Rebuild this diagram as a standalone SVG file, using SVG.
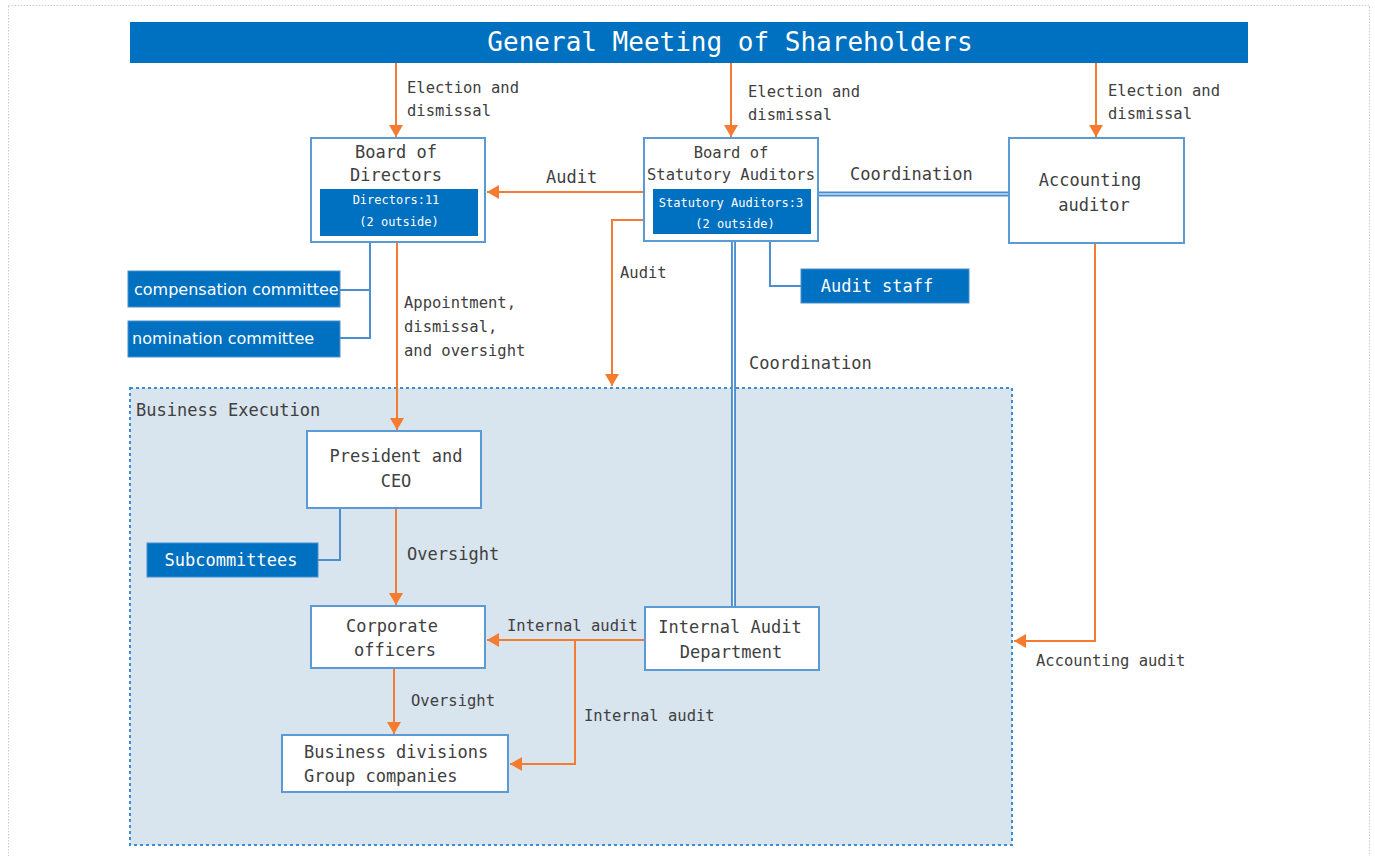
<svg xmlns="http://www.w3.org/2000/svg" width="1375" height="856" viewBox="0 0 1375 856">
<style>
.box{fill:#fff;stroke:#5B9BD5;stroke-width:2}
.blue{fill:#0070C0;stroke:#4A90D0;stroke-width:1}
.t{font-family:"DejaVu Sans Mono","Liberation Mono",monospace;fill:#404040}
.w{font-family:"DejaVu Sans Mono","Liberation Mono",monospace;fill:#fff}
.ws{font-family:"DejaVu Sans","Liberation Sans",sans-serif;fill:#fff}
.n{font-size:17px}
.l{font-size:15.5px}
.s{font-size:12px}
.or{stroke:#F47B30;stroke-width:2;fill:none}
.bl{stroke:#4A8FD0;stroke-width:2;fill:none}
.dbl{stroke:#4A8FD0;stroke-width:5;fill:none}
.dblw{stroke:#fff;stroke-width:1.2;fill:none}
</style>
<defs>
<marker id="ah" markerUnits="userSpaceOnUse" markerWidth="14" markerHeight="14" refX="12" refY="7" orient="auto">
<path d="M0,0 L12,7 L0,14 Z" fill="#F47B30"/>
</marker>
</defs>
<rect x="0" y="0" width="1375" height="856" fill="#fff"/>
<rect x="8.5" y="5.5" width="1361" height="860" fill="none" stroke="#ccc" stroke-width="1" stroke-dasharray="1.5 1.5"/>

<g id="business-execution">
<rect x="130" y="388" width="882" height="457" fill="#D8E4EE" stroke="#3B8ED4" stroke-width="2" stroke-dasharray="3 3"/>
<text class="t n" x="136" y="416">Business Execution</text>
</g>

<g id="connectors">
<line class="or" x1="396" y1="63" x2="396" y2="137" marker-end="url(#ah)"/>
<line class="or" x1="731" y1="63" x2="731" y2="137" marker-end="url(#ah)"/>
<line class="or" x1="1096" y1="63" x2="1096" y2="137" marker-end="url(#ah)"/>
<line class="or" x1="644" y1="192" x2="487" y2="192" marker-end="url(#ah)"/>
<polyline class="or" points="644,220 612,220 612,386" marker-end="url(#ah)"/>
<line class="dbl" x1="818" y1="194" x2="1009" y2="194"/>
<line class="dblw" x1="818" y1="194" x2="1009" y2="194"/>
<line class="dbl" x1="733.5" y1="241" x2="733.5" y2="607"/>
<line class="dblw" x1="733.5" y1="241" x2="733.5" y2="607"/>
<polyline class="bl" points="770,241 770,286 801,286"/>
<polyline class="bl" points="370,242 370,338 340,338"/>
<line class="bl" x1="370" y1="290" x2="340" y2="290"/>
<line class="or" x1="397" y1="242" x2="397" y2="430" marker-end="url(#ah)"/>
<polyline class="bl" points="340,508 340,560 318,560"/>
<line class="or" x1="396" y1="508" x2="396" y2="605" marker-end="url(#ah)"/>
<line class="or" x1="394" y1="668" x2="394" y2="734" marker-end="url(#ah)"/>
<line class="or" x1="645" y1="640" x2="487" y2="640" marker-end="url(#ah)"/>
<polyline class="or" points="575,640 575,764 510,764" marker-end="url(#ah)"/>
<polyline class="or" points="1095,243 1095,641 1014,641" marker-end="url(#ah)"/>
</g>

<g id="connector-labels">
<text class="t l" x="407" y="93">Election and</text>
<text class="t l" x="407" y="116">dismissal</text>
<text class="t l" x="748" y="97">Election and</text>
<text class="t l" x="748" y="120">dismissal</text>
<text class="t l" x="1108" y="96">Election and</text>
<text class="t l" x="1108" y="119">dismissal</text>
<text class="t n" x="546" y="183">Audit</text>
<text class="t n" x="850" y="180">Coordination</text>
<text class="t l" x="620" y="278">Audit</text>
<text class="t n" x="749" y="369">Coordination</text>
<text class="t l" x="404" y="308">Appointment,</text>
<text class="t l" x="404" y="332">dismissal,</text>
<text class="t l" x="404" y="356">and oversight</text>
<text class="t n" x="407" y="560">Oversight</text>
<text class="t l" x="411" y="706">Oversight</text>
<text class="t l" x="507" y="631">Internal audit</text>
<text class="t l" x="584" y="721">Internal audit</text>
<text class="t l" x="1036" y="666">Accounting audit</text>
</g>

<g id="general-meeting">
<rect x="130" y="22" width="1118" height="41" fill="#0070C0"/>
<text class="w" x="730" y="51" font-size="26" text-anchor="middle">General Meeting of Shareholders</text>
</g>

<g id="board-of-directors">
<rect class="box" x="311" y="138" width="174" height="104"/>
<text class="t n" x="396" y="158" text-anchor="middle">Board of</text>
<text class="t n" x="396" y="181" text-anchor="middle">Directors</text>
<rect x="320" y="189" width="158" height="47" fill="#0070C0"/>
<text class="w s" x="396" y="204" text-anchor="middle">Directors:11</text>
<text class="w s" x="399" y="226" text-anchor="middle">(2 outside)</text>
</g>

<g id="board-of-statutory-auditors">
<rect class="box" x="644" y="138" width="174" height="103"/>
<text class="t l" x="731" y="158" text-anchor="middle">Board of</text>
<text class="t l" x="731" y="180" text-anchor="middle">Statutory Auditors</text>
<rect x="653" y="189" width="158" height="45" fill="#0070C0"/>
<text class="w s" x="731" y="207" text-anchor="middle">Statutory Auditors:3</text>
<text class="w s" x="735" y="228" text-anchor="middle">(2 outside)</text>
</g>

<g id="accounting-auditor">
<rect class="box" x="1009" y="138" width="175" height="105"/>
<text class="t n" x="1090" y="186" text-anchor="middle">Accounting</text>
<text class="t n" x="1094" y="211" text-anchor="middle">auditor</text>
</g>

<g id="audit-staff">
<rect class="blue" x="801" y="269" width="168" height="34"/>
<text class="w n" x="877" y="292" text-anchor="middle">Audit staff</text>
</g>

<g id="compensation-committee">
<rect class="blue" x="128" y="271" width="212" height="36"/>
<text class="ws" x="134" y="295" font-size="16">compensation committee</text>
</g>

<g id="nomination-committee">
<rect class="blue" x="128" y="321" width="212" height="36"/>
<text class="ws" x="132" y="344" font-size="16">nomination committee</text>
</g>

<g id="president">
<rect class="box" x="307" y="431" width="174" height="77"/>
<text class="t n" x="396" y="462" text-anchor="middle">President and</text>
<text class="t n" x="396" y="487" text-anchor="middle">CEO</text>
</g>

<g id="subcommittees">
<rect class="blue" x="147" y="543" width="171" height="34"/>
<text class="w n" x="231" y="566" text-anchor="middle">Subcommittees</text>
</g>

<g id="corporate-officers">
<rect class="box" x="311" y="606" width="174" height="62"/>
<text class="t n" x="392" y="632" text-anchor="middle">Corporate</text>
<text class="t n" x="395" y="656" text-anchor="middle">officers</text>
</g>

<g id="internal-audit-department">
<rect class="box" x="645" y="607" width="174" height="63"/>
<text class="t n" x="730" y="633" text-anchor="middle">Internal Audit</text>
<text class="t n" x="731" y="658" text-anchor="middle">Department</text>
</g>

<g id="business-divisions">
<rect class="box" x="282" y="735" width="226" height="57"/>
<text class="t n" x="304" y="758">Business divisions</text>
<text class="t n" x="304" y="782">Group companies</text>
</g>
</svg>
